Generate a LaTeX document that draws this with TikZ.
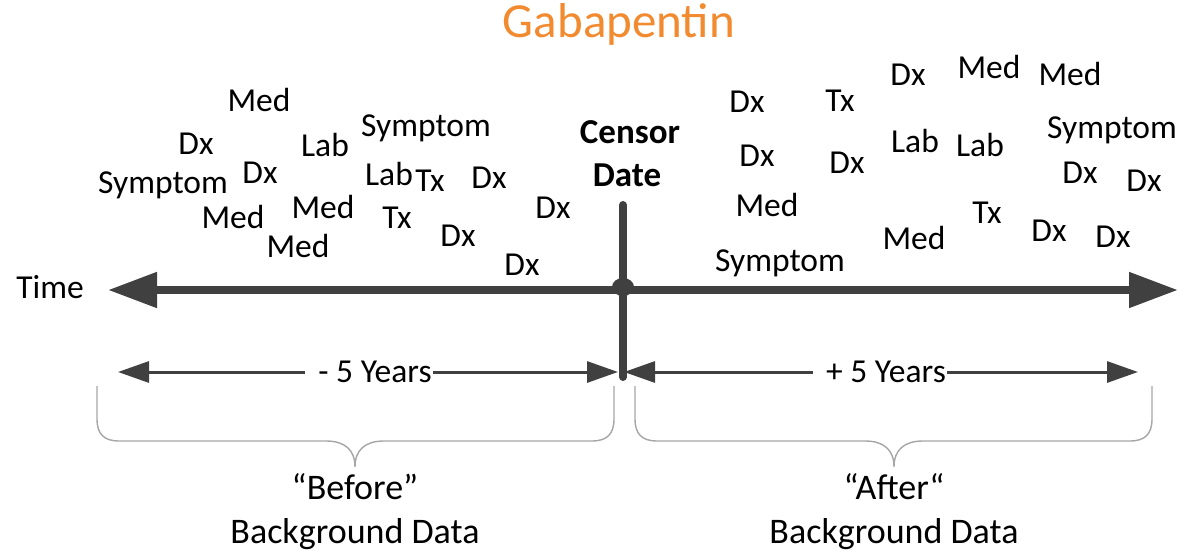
\documentclass[tikz,border=0pt]{standalone}
\usepackage{fontspec}
\setmainfont{Carlito}
\usetikzlibrary{arrows.meta}

\definecolor{axisgray}{HTML}{404040}
\definecolor{bracegray}{HTML}{A6A6A6}
\definecolor{titleorange}{HTML}{F28A30}

\newcommand\lblfont{\fontsize{33.5}{40}\selectfont}
\newcommand\capfont{\fontsize{36}{43}\selectfont}
\newcommand\cenfont{\fontsize{35}{42}\selectfont\bfseries}
\newcommand\ttlfont{\fontsize{49}{58}\selectfont}

\begin{document}
\begin{tikzpicture}[x=1pt, y=-1pt,
  evt/.style={font=\lblfont, inner sep=0pt, anchor=base},
  censor/.style={font=\cenfont, inner sep=0pt, anchor=base},
  bracelbl/.style={font=\capfont, inner sep=0pt, anchor=base},
  timeline/.style={draw=axisgray, line width=8pt},
  bigtip/.style={-{Triangle[length=49pt,width=34pt]}},
  span/.style={draw=axisgray, line width=3pt, -{Triangle[length=31pt,width=21pt]}},
  spanlbl/.style={font=\lblfont, inner ysep=0pt, inner xsep=1pt},
  brace/.style={draw=bracegray, line width=1.4pt},
]
\useasboundingbox (0,0) rectangle (1179,551);

% title
\node[evt, font=\ttlfont, text=titleorange] (title) at (619,38) {Gabapentin};

% time axis
\coordinate (tL) at (108,290);
\coordinate (tR) at (1178,290);
\coordinate (cd) at (623,290);
\coordinate (ctop) at (623,205);
\coordinate (cbot) at (623,377);
\draw[timeline, bigtip] (cd) -- (tL);
\draw[timeline, bigtip] (cd) -- (tR);
\draw[timeline, line cap=round] (ctop) -- (cbot);
\fill[axisgray] (623,287) ellipse (11pt and 9pt);

\node[evt] (time) at (50,298) {Time};
\node[censor] (cen1) at (630,143) {Censor};
\node[censor] (cen2) at (627,186) {Date};

% events before the censor date
\node[evt] (b1)  at (259,111) {Med};
\node[evt] (b2)  at (196,154) {Dx};
\node[evt] (b3)  at (325,156) {Lab};
\node[evt] (b4)  at (426,136) {Symptom};
\node[evt] (b5)  at (163,193) {Symptom};
\node[evt] (b6)  at (260,183) {Dx};
\node[evt] (b7)  at (389,185) {Lab};
\node[evt] (b8)  at (430,191) {Tx};
\node[evt] (b9)  at (489,188) {Dx};
\node[evt] (b10) at (553,218) {Dx};
\node[evt] (b11) at (233,228) {Med};
\node[evt] (b12) at (323,218) {Med};
\node[evt] (b13) at (397,228) {Tx};
\node[evt] (b14) at (458,246) {Dx};
\node[evt] (b15) at (298,257) {Med};
\node[evt] (b16) at (522,275) {Dx};

% events after the censor date
\node[evt] (a1)  at (747,113) {Dx};
\node[evt] (a2)  at (840,111) {Tx};
\node[evt] (a3)  at (908,86)  {Dx};
\node[evt] (a4)  at (989,79)  {Med};
\node[evt] (a5)  at (1070,86) {Med};
\node[evt] (a6)  at (757,166) {Dx};
\node[evt] (a7)  at (847,173) {Dx};
\node[evt] (a8)  at (915,152) {Lab};
\node[evt] (a9)  at (980,157) {Lab};
\node[evt] (a10) at (1112,138) {Symptom};
\node[evt] (a11) at (1080,183) {Dx};
\node[evt] (a12) at (1144,191) {Dx};
\node[evt] (a13) at (767,216) {Med};
\node[evt] (a14) at (987,223) {Tx};
\node[evt] (a15) at (1049,241) {Dx};
\node[evt] (a16) at (1113,247) {Dx};
\node[evt] (a17) at (914,249) {Med};
\node[evt] (a18) at (780,271) {Symptom};

% five-year spans (label text carries a leading gap before it)
\coordinate (sL1) at (118,372);
\coordinate (sL2) at (618,372);
\coordinate (sR1) at (624,372);
\coordinate (sR2) at (1138,372);
\node[spanlbl] (yrsL) at (369,372) {\hspace{12pt}- 5 Years};
\node[spanlbl] (yrsR) at (880,372) {\hspace{12pt}+ 5 Years};
\draw[span] (yrsL) -- (sL1);
\draw[span] (yrsL) -- (sL2);
\draw[span] (yrsR) -- (sR1);
\draw[span] (yrsR) -- (sR2);

% braces
\draw[brace] (97,386) -- (97,419) .. controls (97,434) and (104,441) .. (119,441)
  -- (326,441) .. controls (345,441) and (355,450) .. (355,467)
  .. controls (355,450) and (365,441) .. (384,441)
  -- (592,441) .. controls (607,441) and (614,434) .. (614,419) -- (614,386);
\draw[brace] (635,386) -- (635,419) .. controls (635,434) and (642,441) .. (657,441)
  -- (865,441) .. controls (884,441) and (894,450) .. (894,467)
  .. controls (894,450) and (904,441) .. (923,441)
  -- (1130,441) .. controls (1145,441) and (1152,434) .. (1152,419) -- (1152,386);

% brace labels
\node[bracelbl] (bef1) at (355,499) {“Before”};
\node[bracelbl] (bef2) at (355,543) {Background Data};
\node[bracelbl] (aft1) at (894,499) {“After“};
\node[bracelbl] (aft2) at (894,543) {Background Data};
\end{tikzpicture}
\end{document}
